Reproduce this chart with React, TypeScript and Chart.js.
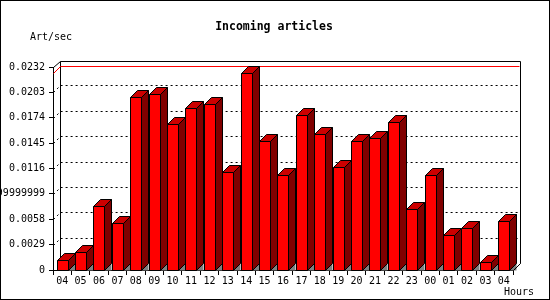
import React, { useEffect, useRef } from "react";
import { Chart, registerables } from "chart.js";

Chart.register(...registerables);

const hours = ["04","05","06","07","08","09","10","11","12","13","14","15","16","17","18","19","20","21","22","23","00","01","02","03","04"];
const artPerSec = [0.00111, 0.00202, 0.00731, 0.00533, 0.01972, 0.02009, 0.01663, 0.01857, 0.01895, 0.01115, 0.02246, 0.01473, 0.01081, 0.01777, 0.0156, 0.01172, 0.01469, 0.01503, 0.01697, 0.00693, 0.01081, 0.00396, 0.00476, 0.00091, 0.00556];
const yTickValues = [0, 0.0029, 0.0058, 0.0087, 0.0116, 0.0145, 0.0174, 0.0203, 0.0232];
const yTickLabels = ["0", "0.0029", "0.0058", "0.00869999999999999", "0.0116", "0.0145", "0.0174", "0.0203", "0.0232"];
const titleText = "Incoming articles";
const yTitle = "Art/sec";
const xTitle = "Hours";

const D = 7;
const FONT = "DejaVu Sans Mono";

function poly(ctx: CanvasRenderingContext2D, pts: number[][], fill: string | null, stroke: boolean) {
  ctx.beginPath();
  ctx.moveTo(pts[0][0], pts[0][1]);
  for (let i = 1; i < pts.length; i++) ctx.lineTo(pts[i][0], pts[i][1]);
  ctx.closePath();
  if (fill) {
    ctx.fillStyle = fill;
    ctx.fill();
  }
  if (stroke) {
    ctx.strokeStyle = "#000";
    ctx.lineWidth = 1;
    ctx.stroke();
  }
}

const threeD = {
  id: "threeD",
  beforeDraw(chart: any) {
    const ctx = chart.ctx;
    ctx.save();
    ctx.fillStyle = "#fff";
    ctx.fillRect(0, 0, chart.width, chart.height);
    ctx.restore();
  },
  beforeDatasetsDraw(chart: any) {
    const ctx: CanvasRenderingContext2D = chart.ctx;
    const ca = chart.chartArea;
    const y = chart.scales.y;
    const L = Math.round(ca.left) + 0.5;
    const R = Math.round(ca.right) + 0.5;
    const T = Math.round(ca.top) + 0.5;
    const B = Math.round(ca.bottom) + 0.5;
    ctx.save();
    ctx.lineWidth = 1;
    ctx.strokeStyle = "#000";
    // back wall frame
    ctx.beginPath();
    ctx.moveTo(L, T);
    ctx.lineTo(L + D, T - 6);
    ctx.lineTo(R + D, T - 6);
    ctx.lineTo(R + D, B - D);
    ctx.lineTo(R, B);
    ctx.moveTo(L + D, T - 6);
    ctx.lineTo(L + D, B - D);
    ctx.stroke();
    // dotted grid
    ctx.setLineDash([2, 3]);
    for (let i = 1; i < yTickValues.length - 1; i++) {
      const py = Math.round(y.getPixelForValue(yTickValues[i])) + 0.5;
      ctx.beginPath();
      ctx.moveTo(L, py);
      ctx.lineTo(L + D, py - D);
      ctx.lineTo(R + D, py - D);
      ctx.stroke();
    }
    ctx.setLineDash([]);
    // max line
    const maxV = Math.max(...artPerSec);
    const my = Math.round(y.getPixelForValue(maxV)) + 0.5;
    ctx.strokeStyle = "#ff0000";
    ctx.beginPath();
    ctx.moveTo(L, my);
    ctx.lineTo(L + D, my - D);
    ctx.lineTo(R + D - 1, my - D);
    ctx.stroke();
    ctx.restore();
  },
  afterDatasetsDraw(chart: any) {
    const ctx: CanvasRenderingContext2D = chart.ctx;
    const meta = chart.getDatasetMeta(0);
    ctx.save();
    ctx.lineWidth = 1;
    meta.data.forEach((el: any) => {
      const l = Math.round(el.x - el.width / 2) + 0.5;
      const r = l + 11;
      const t = Math.round(el.y) + 0.5;
      const b = Math.round(el.base) + 0.5;
      poly(ctx, [[r, b], [r + D, b - D], [r + D, b]], "#808080", false);
      poly(ctx, [[r, t], [r + D, t - D], [r + D, b - D], [r, b]], "#800000", true);
      poly(ctx, [[l, t], [l + D, t - D], [r + D, t - D], [r, t]], "#cc0000", true);
      poly(ctx, [[l, t], [r, t], [r, b], [l, b]], "#ff0000", true);
    });
    const ca = chart.chartArea;
    const R = Math.round(ca.right) + 0.5;
    const B = Math.round(ca.bottom) + 0.5;
    ctx.strokeStyle = "#000";
    ctx.beginPath();
    ctx.moveTo(R, B);
    ctx.lineTo(R + D, B - D);
    ctx.stroke();
    ctx.restore();
  },
  afterDraw(chart: any) {
    const ctx: CanvasRenderingContext2D = chart.ctx;
    ctx.save();
    ctx.fillStyle = "#000";
    ctx.textBaseline = "middle";
    ctx.textAlign = "center";
    ctx.font = `bold 11.5px "${FONT}"`;
    ctx.fillText(titleText, 274, 27);
    ctx.font = `10px "${FONT}"`;
    ctx.textAlign = "left";
    ctx.fillText(yTitle, 30, 37);
    ctx.textAlign = "right";
    ctx.fillText(xTitle, 534, 292);
    ctx.strokeStyle = "#000";
    ctx.lineWidth = 1;
    ctx.strokeRect(0.5, 0.5, chart.width - 1, chart.height - 1);
    ctx.restore();
  },
};

export default function App() {
  const ref = useRef<HTMLCanvasElement | null>(null);
  useEffect(() => {
    document.body.style.margin = "0";
    const canvas = ref.current!;
    const chart = new Chart(canvas, {
      type: "bar",
      data: {
        labels: hours,
        datasets: [
          {
            label: yTitle,
            data: artPerSec,
            backgroundColor: "rgba(0,0,0,0)",
            borderWidth: 0,
            barPercentage: 0.6,
            categoryPercentage: 1,
          },
        ],
      },
      options: {
        responsive: false,
        animation: false,
        devicePixelRatio: 1,
        layout: { padding: { top: 67, left: 0, right: 37, bottom: 0 } },
        plugins: { legend: { display: false }, tooltip: { enabled: false }, title: { display: false } },
        scales: {
          x: {
            type: "category",
            offset: true,
            afterFit: (s: any) => { s.height = 30; },
            grid: { display: true, offset: true, drawOnChartArea: false, drawTicks: true, tickLength: 5, color: "#000" },
            border: { display: true, color: "#000" },
            ticks: { autoSkip: false, maxRotation: 0, padding: 0, color: "#000", font: { family: FONT, size: 10 } },
          },
          y: {
            type: "linear",
            min: 0,
            max: 0.0232,
            afterFit: (s: any) => { s.width = 53; },
            afterBuildTicks: (s: any) => { s.ticks = yTickValues.map((v) => ({ value: v })); },
            grid: { display: true, drawOnChartArea: false, drawTicks: true, tickLength: 4, color: "#000" },
            border: { display: true, color: "#000" },
            ticks: {
              padding: 4,
              color: "#000",
              font: { family: FONT, size: 10 },
              callback: (_v: any, i: number) => yTickLabels[i],
            },
          },
        },
      },
      plugins: [threeD],
    });
    return () => chart.destroy();
  }, []);
  return (
    <div style={{ width: 550, height: 300 }}>
      <canvas ref={ref} width={550} height={300} style={{ display: "block" }} />
    </div>
  );
}
